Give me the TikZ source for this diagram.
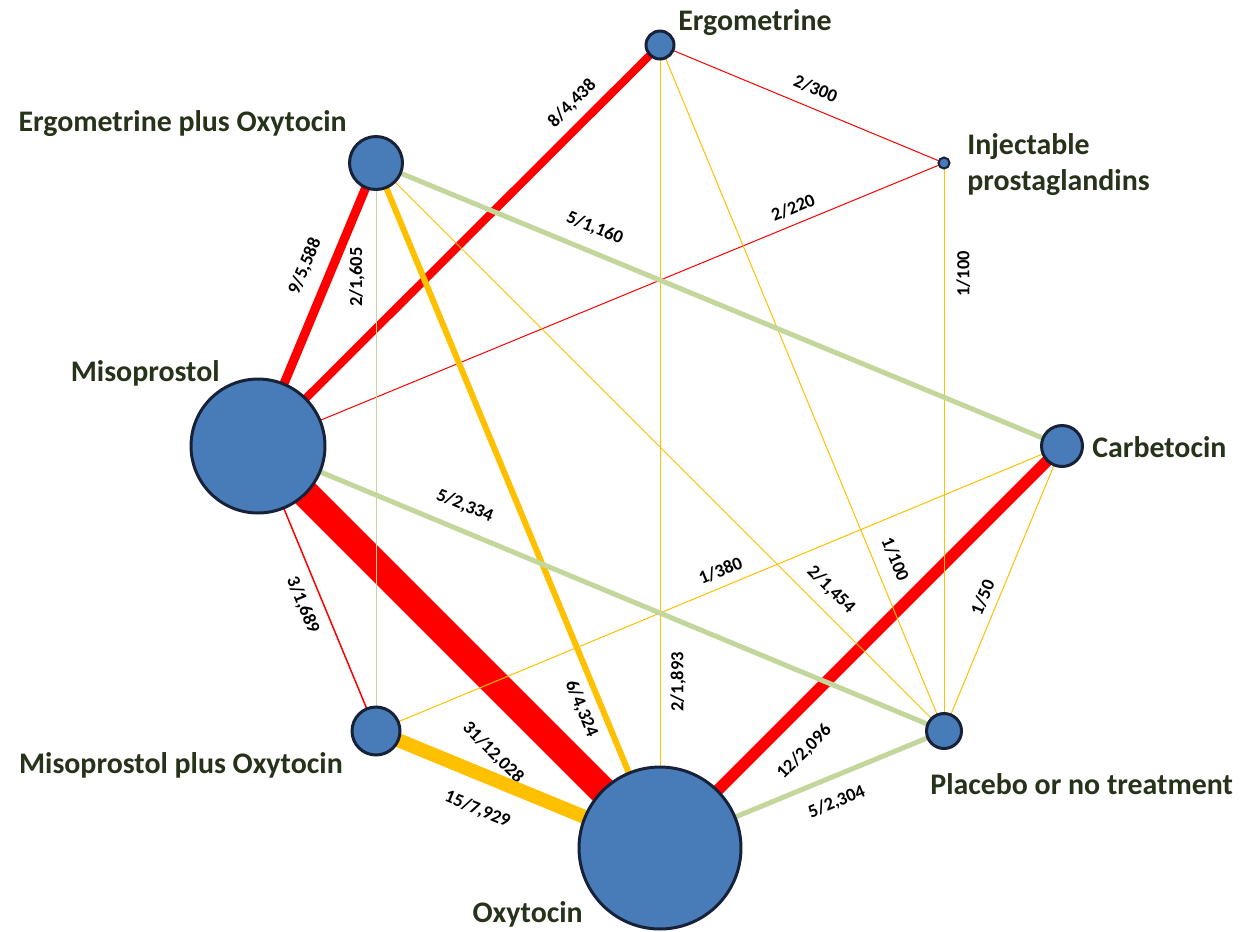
\documentclass[tikz,border=0pt]{standalone}
\usepackage{fontspec}
\setmainfont{Carlito}
\usepackage{tikz}
\usetikzlibrary{backgrounds}
\definecolor{nodeblue}{RGB}{72,124,185}
\definecolor{nodenavy}{RGB}{23,33,55}
\definecolor{textolive}{RGB}{38,50,25}
\definecolor{gold}{RGB}{255,192,0}
\definecolor{sage}{RGB}{195,214,155}
\tikzset{
    treatment/.style={circle, draw=nodenavy, fill=nodeblue, line width=0.06cm, inner sep=0pt, minimum size=#1},
    drug/.style={text=textolive, font=\fontsize{17}{20.5}\selectfont\bfseries, inner sep=0pt},
    studies/.style={text=black, font=\fontsize{10.5}{12}\selectfont\bfseries, inner sep=0pt, sloped},
    lw/.style={line width=#1*0.2mm}
}
\def\Network{
    \node[treatment=0.56cm] (ergometrine) at (660,45) {};
    \node[treatment=0.22cm, line width=0.04cm] (injectable) at (944,163) {};
    \node[treatment=0.82cm] (carbetocin) at (1062,446) {};
    \node[treatment=0.70cm] (placebo) at (944,731) {};
    \node[treatment=3.24cm] (oxytocin) at (660,848) {};
    \node[treatment=0.96cm] (misooxy) at (376,731) {};
    \node[treatment=2.68cm] (misoprostol) at (258,446) {};
    \node[treatment=1.06cm] (ergooxy) at (376,163) {};

    \node[drug, anchor=west] (ergometrine-name) at (678,23) {Ergometrine};
    \node[drug, anchor=east] (ergooxy-name) at (347,124) {Ergometrine plus Oxytocin};
    \node[drug, anchor=west, align=left] (injectable-name) at (967,165) {Injectable\\prostaglandins};
    \node[drug, anchor=east] (misoprostol-name) at (220,373) {Misoprostol};
    \node[drug, anchor=west] (carbetocin-name) at (1092,447) {Carbetocin};
    \node[drug, anchor=east] (misooxy-name) at (343,765) {Misoprostol plus Oxytocin};
    \node[drug, anchor=west] (placebo-name) at (930,784) {Placebo or no treatment};
    \node[drug, anchor=east] (oxytocin-name) at (583,914) {Oxytocin};
}
\begin{document}
\begin{tikzpicture}[x=0.02cm, y=-0.02cm]
    \useasboundingbox (0,0) rectangle (1250,931);
    \Network
    \begin{pgfonlayer}{background}
    \draw[red, lw=28] (misoprostol.center) -- node[studies, below=0.58cm, pos=0.674] {31/12,028} (oxytocin.center);
    \draw[red, lw=8] (misoprostol.center) -- node[studies, above=0.18cm, pos=0.818] {8/4,438} (ergometrine.center);
    \draw[red, lw=9] (misoprostol.center) -- node[studies, above=0.27cm, pos=0.600] {9/5,588} (ergooxy.center);
    \draw[red, lw=1] (misoprostol.center) -- node[studies, above=0.18cm, pos=0.789] {2/220} (injectable.center);
    \draw[red, lw=1.5] (misoprostol.center) -- node[studies, below=0.22cm, pos=0.532] {3/1,689} (misooxy.center);
    \draw[red, lw=1] (ergometrine.center) -- node[studies, above=0.24cm, pos=0.522] {2/300} (injectable.center);
    \draw[red, lw=11.5] (oxytocin.center) -- node[studies, below=0.41cm, pos=0.299] {12/2,096} (carbetocin.center);

    \draw[gold, lw=14] (misooxy.center) -- node[studies, below=0.38cm, pos=0.402] {15/7,929} (oxytocin.center);
    \draw[gold, lw=6] (ergooxy.center) -- node[studies, below=0.17cm, pos=0.786] {6/4,324} (oxytocin.center);
    \draw[gold, lw=1] (oxytocin.center) -- node[studies, below=0.20cm, pos=0.207] {2/1,893} (ergometrine.center);
    \draw[gold, lw=1] (ergometrine.center) -- node[studies, above=0.27cm, pos=0.761] {1/100} (placebo.center);
    \draw[gold, lw=1] (ergooxy.center) -- node[studies, above=0.24cm, pos=0.776] {2/1,454} (placebo.center);
    \draw[gold, lw=1] (placebo.center) -- node[studies, below=0.24cm, pos=0.805] {1/100} (injectable.center);
    \draw[gold, lw=1] (placebo.center) -- node[studies, above=0.16cm, pos=0.449] {1/50} (carbetocin.center);
    \draw[gold, lw=1] (misooxy.center) -- node[studies, above=0.17cm, pos=0.511] {1/380} (carbetocin.center);

    \draw[sage, lw=5] (ergooxy.center) -- node[studies, above=0.26cm, pos=0.306] {5/1,160} (carbetocin.center);
    \draw[sage, lw=5] (misoprostol.center) -- node[studies, above=0.28cm, pos=0.288] {5/2,334} (placebo.center);
    \draw[sage, lw=5] (oxytocin.center) -- node[studies, below=0.29cm, pos=0.589] {5/2,304} (placebo.center);
    \draw[sage, lw=1] (misooxy.center) -- node[studies, above=0.22cm, pos=0.799] {2/1,605} (ergooxy.center);
    \end{pgfonlayer}
\end{tikzpicture}
\end{document}
